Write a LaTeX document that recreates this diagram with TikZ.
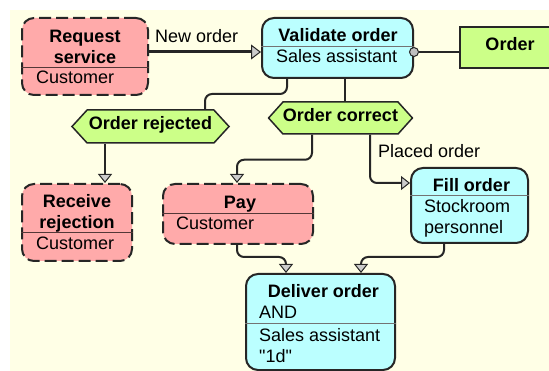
\documentclass[tikz,border=0pt]{standalone}
\usepackage{fontspec}
\setmainfont{Liberation Sans}[Ligatures=TeXOff]
\usetikzlibrary{arrows.meta,shapes.symbols}
\definecolor{bgyellow}{HTML}{FFFFE6}
\definecolor{extpink}{HTML}{FFAAAA}
\definecolor{fncyan}{HTML}{BBFFFF}
\definecolor{evgreen}{HTML}{CCFF88}
\begin{document}
\begin{tikzpicture}[x=1pt,y=-1pt,
  every node/.style={font=\fontsize{18}{21}\selectfont},
  fnbox/.style={draw=black!85,line width=2pt,rounded corners=12pt,inner sep=0pt},
  extbox/.style={fnbox,fill=extpink,dash pattern=on 12pt off 5pt},
  sysbox/.style={fnbox,fill=fncyan},
  boxtitle/.style={anchor=north,inner sep=0pt,align=center,font=\fontsize{18}{21}\selectfont\bfseries},
  boxrole/.style={anchor=north west,inner sep=0pt,align=left},
  divider/.style={draw=black!55,line width=1pt},
  event/.style={signal,signal to=west and east,draw=black!85,line width=1.5pt,fill=evgreen,
    inner sep=0pt,text height=13pt,text depth=6.5pt,font=\fontsize{18}{21}\selectfont\bfseries},
  flow/.style={draw=black!85,line width=2pt,rounded corners=7pt},
  flowarrow/.style={-{Triangle[length=9pt,width=14pt,line width=1pt,fill=black!20]}}]
\useasboundingbox (0,0) rectangle (549,371);
\fill[bgyellow] (10,10) rectangle (560,380);

% functions
\node[extbox,minimum width=126pt,minimum height=77pt] (request) at (85,56.5) {};
\node[boxtitle] (requestt) at (85,29.7) {Request\\service};
\node[boxrole] (requestr) at (36,71) {Customer};
\draw[divider,draw=black!45!extpink!60!black] (request.west |- 0,68) -- (request.east |- 0,68);

\node[sysbox,minimum width=151pt,minimum height=60pt] (validate) at (337.5,48) {};
\node[boxtitle] (validatet) at (338,28.7) {Validate order};
\node[boxrole] (validater) at (276,49.7) {Sales assistant};
\draw[divider] (validate.west |- 0,47) -- (validate.east |- 0,47);

\node[extbox,minimum width=110pt,minimum height=77pt] (receive) at (77,222.5) {};
\node[boxtitle] (receivet) at (77,194) {Receive\\rejection};
\node[boxrole] (receiver) at (36,237) {Customer};
\draw[divider,draw=black!45!extpink!60!black] (receive.west |- 0,233) -- (receive.east |- 0,233);

\node[extbox,minimum width=150pt,minimum height=60pt] (pay) at (238,214) {};
\node[boxtitle] (payt) at (240,196) {Pay};
\node[boxrole] (payr) at (176,217) {Customer};
\draw[divider,draw=black!45!extpink!60!black] (pay.west |- 0,214) -- (pay.east |- 0,214);

\node[sysbox,minimum width=117pt,minimum height=75pt] (fill) at (469.5,205.5) {};
\node[boxtitle] (fillt) at (471.5,178) {Fill order};
\node[boxrole] (fillr) at (424,199) {Stockroom\\personnel};
\draw[divider] (fill.west |- 0,196) -- (fill.east |- 0,196);

\node[sysbox,minimum width=149pt,minimum height=96pt] (deliver) at (320.5,322) {};
\node[boxtitle] (delivert) at (323.5,284) {Deliver order};
\node[boxrole] (deliverand) at (259,306) {AND};
\node[boxrole] (deliverr) at (259,328) {Sales assistant\\"1d"};
\draw[divider] (deliver.west |- 0,324) -- (deliver.east |- 0,324);

% events and data
\node[event,minimum width=157pt,minimum height=33pt,signal pointer angle=95] (rejected) at (150.5,126.5) {Order rejected};
\node[event,minimum width=141pt,minimum height=32pt,signal pointer angle=96] (correct) at (340.5,118) {Order correct};
\node[draw=black!85,line width=1.5pt,fill=evgreen,minimum width=100pt,minimum height=41pt,
  text height=13pt,text depth=6.5pt,font=\fontsize{18}{21}\selectfont\bfseries] (order) at (510,47.5) {Order};

% connectors
\draw[flow,line width=3pt,-{Triangle[length=10pt,width=15pt,line width=1pt,fill=black!20]}]
  ([yshift=4.5pt]request.east) -- ([yshift=-4pt]validate.west);
\node[anchor=base west,inner sep=0pt] (neworder) at (155,43) {New order};

\node[circle,draw=black!85,line width=1pt,fill=black!25,minimum size=9pt,inner sep=0pt] (dot) at ([yshift=-4pt]validate.east) {};
\draw[flow] (dot) -- (dot -| order.west);

\draw[flow] ([xshift=7pt]validate.south) -- ([xshift=7pt]validate.south |- correct.north);
\draw[flow] ([xshift=-50.5pt]validate.south) -- ++(0,15) -| ([xshift=54.5pt]rejected.north);
\draw[flow,flowarrow] ([xshift=-45.5pt]rejected.south) -- ([xshift=28pt]receive.north);
\draw[flow,flowarrow] ([xshift=-28.5pt]correct.south) -- ++(0,25) -| ([xshift=-1pt]pay.north);
\draw[flow,flowarrow] ([xshift=29.5pt]correct.south) |- ([yshift=22.5pt]fill.west);
\node[anchor=base west,inner sep=0pt] (placed) at (378,158) {Placed order};
\draw[flow,flowarrow] ([xshift=-1pt]pay.south) -- ++(0,12) -| ([xshift=-34.5pt]deliver.north);
\draw[flow,flowarrow] ([xshift=-25.5pt]fill.south) -- ++(0,13) -| ([xshift=40.5pt]deliver.north);
\end{tikzpicture}
\end{document}
